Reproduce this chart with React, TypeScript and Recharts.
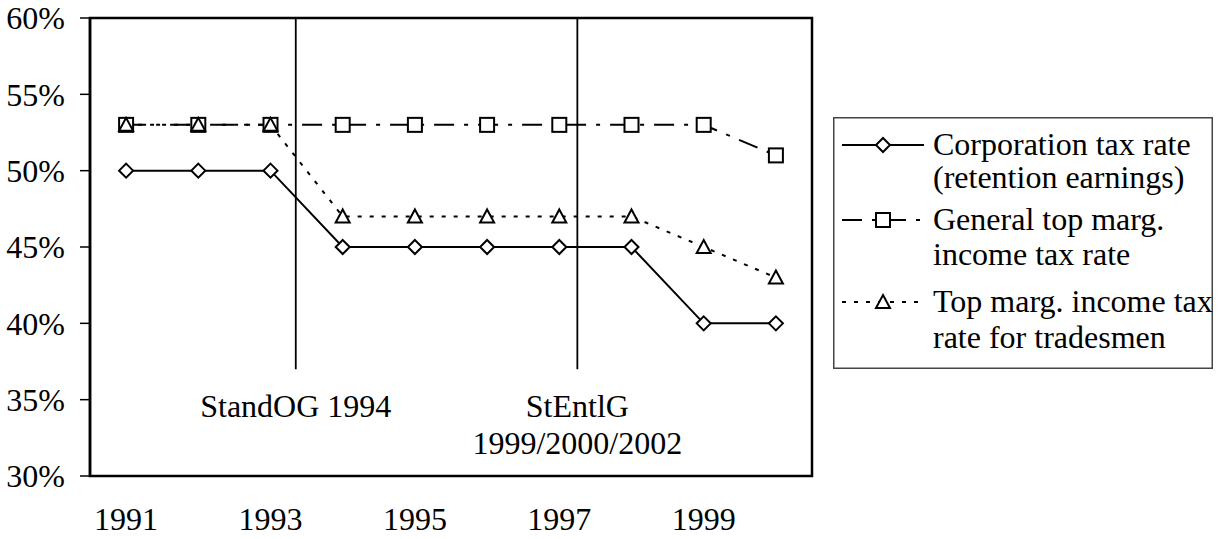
import { LineChart, Line, XAxis, YAxis, ReferenceLine, ReferenceArea, Legend } from "recharts"

const years = ["1991", "1992", "1993", "1994", "1995", "1996", "1997", "1998", "1999", "2000"]
const corporationRate = [50, 50, 50, 45, 45, 45, 45, 45, 40, 40]
const generalTopRate = [53, 53, 53, 53, 53, 53, 53, 53, 53, 51]
const tradesmenTopRate = [53, 53, 53, 47, 47, 47, 47, 47, 45, 43]

const yTicks = [30, 35, 40, 45, 50, 55, 60]
const bandTicks = [0, 1, 2, 3, 4, 5, 6, 7, 8, 9, 10]
const yearLabelTicks = [0.5, 2.5, 4.5, 6.5, 8.5]

// reform markers: x in band units, line drawn from 60% down to this value
const reformPositions = [2.85, 6.75]
const reformBottom = 37
const reformLabels = [["StandOG 1994"], ["StEntlG", "1999/2000/2002"]]

const legendLabels = [
  ["Corporation tax rate", "(retention earnings)"],
  ["General top marg.", "income tax rate"],
  ["Top marg. income tax", "rate for tradesmen"],
]

const FONT = "Liberation Serif, Times New Roman, serif"
const DASH_GENERAL = "20 10 4 10"
const DASH_TRADES = "4 8"

const data = years.map((year, i) => ({
  pos: i + 0.5,
  year,
  corp: corporationRate[i],
  general: generalTopRate[i],
  trades: tradesmenTopRate[i],
}))

function Diamond(props: any) {
  const { cx, cy, index } = props
  if (cx == null || cy == null) return null
  return (
    <path
      key={`dia-${index}`}
      d={`M${cx},${cy - 7}L${cx + 7},${cy}L${cx},${cy + 7}L${cx - 7},${cy}Z`}
      fill="#fff"
      stroke="#000"
      strokeWidth={2}
    />
  )
}

function Square(props: any) {
  const { cx, cy, index } = props
  if (cx == null || cy == null) return null
  return <rect key={`sq-${index}`} x={cx - 7} y={cy - 7} width={14} height={14} fill="#fff" stroke="#000" strokeWidth={2} />
}

function Triangle(props: any) {
  const { cx, cy, index } = props
  if (cx == null || cy == null) return null
  return (
    <path
      key={`tri-${index}`}
      d={`M${cx},${cy - 7}L${cx + 7},${cy + 6}L${cx - 7},${cy + 6}Z`}
      fill="#fff"
      stroke="#000"
      strokeWidth={2}
    />
  )
}

function ReformLabel(props: any) {
  const { viewBox, lines } = props
  if (!viewBox) return null
  const cx = viewBox.x + (viewBox.width || 0) / 2
  const bottom = viewBox.y + (viewBox.height || 0)
  return (
    <text textAnchor="middle" fontSize={32} fontFamily={FONT} fill="#000">
      {lines.map((l: string, i: number) => (
        <tspan key={l} x={cx} y={bottom + 48 + i * 37}>
          {l}
        </tspan>
      ))}
    </text>
  )
}

function LegendBox() {
  const rowY = [28, 103, 185]
  const textY = [
    [38, 71],
    [113, 148],
    [195, 231],
  ]
  const markers = [
    <Diamond cx={50} cy={rowY[0]} index={0} />,
    <Square cx={50} cy={rowY[1]} index={1} />,
    <Triangle cx={50} cy={rowY[2]} index={2} />,
  ]
  const dashes = [undefined, DASH_GENERAL, DASH_TRADES]
  return (
    <svg width={380} height={252} style={{ display: "block" }}>
      <rect x={0.75} y={0.75} width={378.5} height={250.5} fill="#fff" stroke="#444" strokeWidth={1.5} />
      {legendLabels.map((lines, i) => (
        <g key={i}>
          <line x1={9} x2={91} y1={rowY[i]} y2={rowY[i]} stroke="#000" strokeWidth={2} strokeDasharray={dashes[i]} />
          {markers[i]}
          <text fontSize={32} fontFamily={FONT} fill="#000">
            {lines.map((l, j) => (
              <tspan key={l} x={100} y={textY[i][j]}>
                {l}
              </tspan>
            ))}
          </text>
        </g>
      ))}
    </svg>
  )
}

export default function App() {
  return (
    <div style={{ position: "absolute", left: 0, top: 0, width: 1224, height: 539, background: "#fff" }}>
      <LineChart width={1224} height={539} data={data} margin={{ top: 18, right: 412, bottom: 0, left: 0 }}>
        <XAxis
          xAxisId="band"
          type="number"
          dataKey="pos"
          domain={[0, 10]}
          ticks={bandTicks}
          interval={0}
          tick={false}
          tickSize={8}
          height={0}
          axisLine={{ stroke: "#000", strokeWidth: 2.5 }}
          tickLine={{ stroke: "#000", strokeWidth: 1.5 }}
        />
        <XAxis
          xAxisId="year"
          type="number"
          dataKey="pos"
          domain={[0, 10]}
          ticks={yearLabelTicks}
          interval={0}
          tickFormatter={(v: number) => years[Math.floor(v)]}
          axisLine={false}
          tickLine={false}
          tickSize={0}
          tickMargin={31}
          height={63}
          tick={{ fill: "#000", fontSize: 32, fontFamily: FONT }}
        />
        <YAxis
          type="number"
          domain={[30, 60]}
          ticks={yTicks}
          interval={0}
          width={90}
          tickSize={10}
          tickMargin={15}
          tickFormatter={(v: number) => `${v}%`}
          axisLine={{ stroke: "#000", strokeWidth: 2.5 }}
          tickLine={{ stroke: "#000", strokeWidth: 1.5 }}
          tick={{ fill: "#000", fontSize: 32, fontFamily: FONT }}
        />
        <ReferenceArea
          xAxisId="band"
          x1={0}
          x2={10}
          y1={30}
          y2={60}
          fill="none"
          stroke="#000"
          strokeWidth={2.5}
          ifOverflow="visible"
        />
        {reformPositions.map((x, i) => (
          <ReferenceLine
            key={x}
            xAxisId="band"
            segment={[
              { x, y: 60 },
              { x, y: reformBottom },
            ]}
            stroke="#000"
            strokeWidth={1.8}
            label={<ReformLabel lines={reformLabels[i]} />}
          />
        ))}
        <Line
          xAxisId="band"
          dataKey="corp"
          name="Corporation tax rate"
          stroke="#000"
          strokeWidth={2}
          dot={Diamond}
          activeDot={false}
          isAnimationActive={false}
        />
        <Line
          xAxisId="band"
          dataKey="general"
          name="General top marg. income tax rate"
          stroke="#000"
          strokeWidth={2}
          strokeDasharray={DASH_GENERAL}
          dot={Square}
          activeDot={false}
          isAnimationActive={false}
        />
        <Line
          xAxisId="band"
          dataKey="trades"
          name="Top marg. income tax rate for tradesmen"
          stroke="#000"
          strokeWidth={2}
          strokeDasharray={DASH_TRADES}
          dot={Triangle}
          activeDot={false}
          isAnimationActive={false}
        />
        <Legend
          layout="vertical"
          align="center"
          verticalAlign="middle"
          content={() => <LegendBox />}
          wrapperStyle={{ position: "absolute", left: 833, top: 117, width: 380, height: 252 }}
        />
      </LineChart>
    </div>
  )
}
